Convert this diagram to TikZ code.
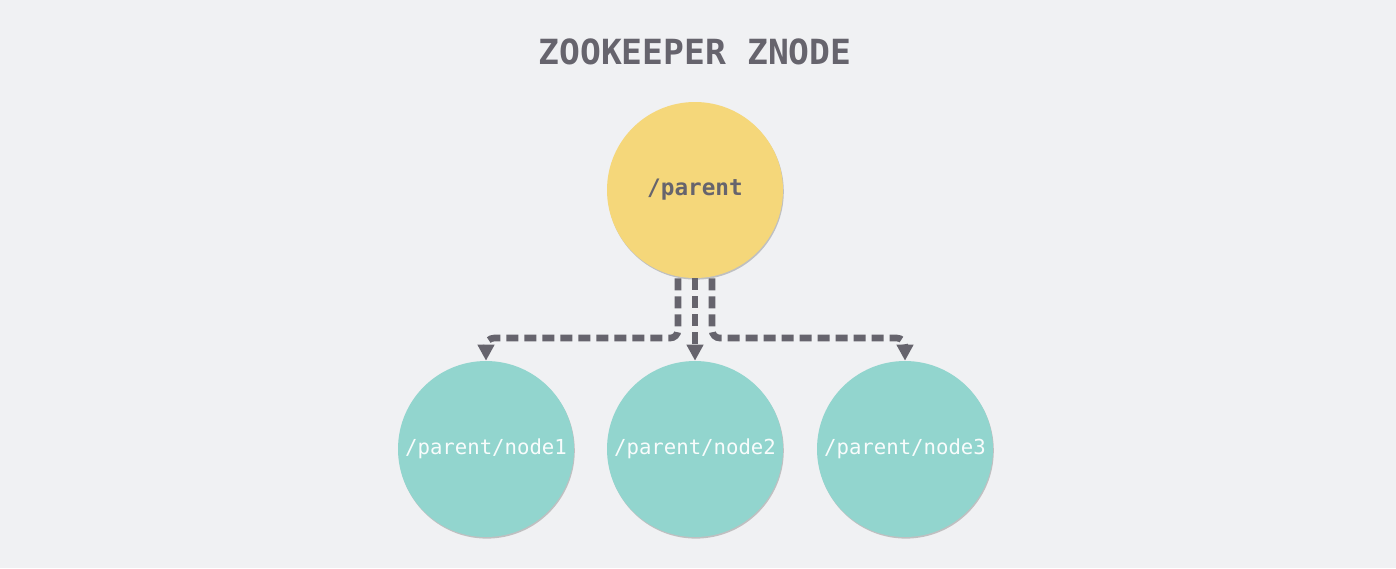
\documentclass[tikz,border=0pt]{standalone}
\usepackage{fontspec}
\setmonofont{DejaVu Sans Mono}
\usetikzlibrary{arrows.meta,shadows}
\definecolor{bgcol}{HTML}{F0F1F3}
\definecolor{inkgray}{HTML}{66646D}
\definecolor{parentcol}{HTML}{F5D77A}
\definecolor{childcol}{HTML}{92D5CE}
\tikzset{
  znode/.style={circle,inner sep=0pt,minimum size=132pt,
    drop shadow={shadow xshift=0.6pt,shadow yshift=-1.2pt,opacity=0.35,fill=black!60}},
  childnode/.style={znode,fill=childcol,text=white!94!childcol,
    font=\ttfamily\fontsize{15.5}{18}\selectfont},
  link/.style={draw=inkgray,line width=5pt,dash pattern=on 9pt off 4.5pt,
    rounded corners=6pt,-{Triangle[length=12pt,width=12pt]}}
}
\begin{document}
\begin{tikzpicture}[x=0.75pt,y=-0.75pt,font=\ttfamily]
  \fill[bgcol] (0,0) rectangle (1396,568);
  \useasboundingbox (0,0) rectangle (1396,568);
  \node[text=inkgray,font=\ttfamily\bfseries\fontsize{26}{30}\selectfont] (title) at (695,52) {ZOOKEEPER ZNODE};
  \node[znode,fill=parentcol,text=inkgray,font=\ttfamily\bfseries\fontsize{17}{20}\selectfont] (parent) at (695,190) {/parent};
  \node[childnode] (node1) at (486,449) {/parent/node1};
  \node[childnode] (node2) at (695,449) {/parent/node2};
  \node[childnode] (node3) at (905,449) {/parent/node3};
  \draw[link] ([xshift=-12.75pt]parent.south) |- ([yshift=17pt]node1.north) -- (node1.north);
  \draw[link] (parent.south) -- (node2.north);
  \draw[link] ([xshift=12.75pt]parent.south) |- ([yshift=17pt]node3.north) -- (node3.north);
\end{tikzpicture}
\end{document}
